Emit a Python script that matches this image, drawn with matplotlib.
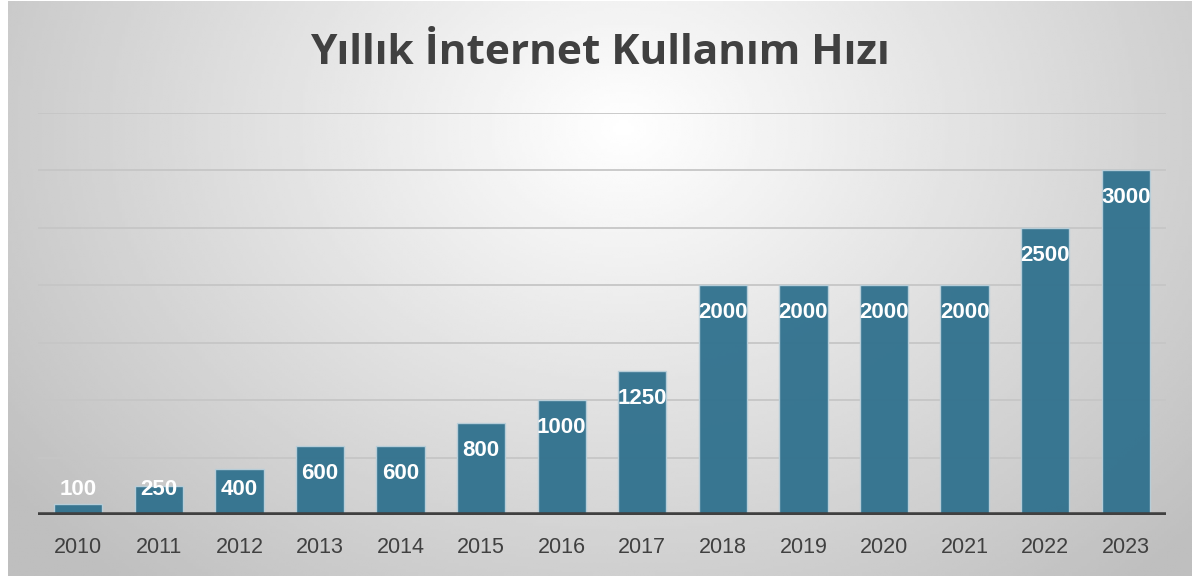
import numpy as np
import matplotlib
matplotlib.use('Agg')
import matplotlib.pyplot as plt

# ── DATA ──────────────────────────────────────────────────────────────────────
years  = ['2010', '2011', '2012', '2013', '2014', '2015', '2016',
          '2017', '2018', '2019', '2020', '2021', '2022', '2023']
speeds = [100, 250, 400, 600, 600, 800, 1000, 1250, 2000, 2000, 2000, 2000, 2500, 3000]
grid_ticks = [500, 1000, 1500, 2000, 2500, 3000, 3500]

# ── THEME ─────────────────────────────────────────────────────────────────────
BAR   = "#33738f"
EDGE  = "#b9cfda"
TEXT  = "#404040"
GRID  = "#c6c6c6"

W, H = 1192, 576
fig = plt.figure(figsize=(W / 100, H / 100), dpi=100, facecolor='white')

# radial gradient background
bg = fig.add_axes([8 / W, 0, 1 - 8 / W, 1 - 1 / H])
bg.axis('off')
xx, yy = np.meshgrid(np.linspace(0, 1, 400), np.linspace(0, 1, 200))
r = np.sqrt(((xx - 0.52) / 0.62) ** 2 + ((yy - 0.78) / 1.0) ** 2)
shade = 1 - 0.24 * np.clip(r, 0, 1.05)
bg.imshow(shade, cmap='gray', vmin=0, vmax=1, origin='lower',
          extent=[0, 1, 0, 1], aspect='auto', interpolation='bilinear')
bg.set_xlim(0, 1); bg.set_ylim(0, 1)

# title
fig.text(0.503, 1 - 53 / H, "Yıllık İnternet Kullanım Hızı", ha='center', va='center',
         fontsize=30.5, fontweight='bold', color=TEXT, family='Open Sans')

# ── BARS ──────────────────────────────────────────────────────────────────────
ax = fig.add_axes([38 / W, 1 - 515 / H, (1166 - 38) / W, (515 - 113) / H])
ax.patch.set_alpha(0)
x = np.arange(len(years))
ax.bar(x, speeds, width=0.6, color=BAR, edgecolor=EDGE, linewidth=1, zorder=3, alpha=0.97)
for g in grid_ticks:
    ax.axhline(g, color=GRID, lw=1.3, zorder=1)
ax.axhline(0, color='#404040', lw=4, zorder=4)

for xi, v in zip(x, speeds):
    ax.text(xi, max(v - 240, 220), f"{v}", ha='center', va='center', fontsize=16,
            fontweight='bold', color='white', family='Liberation Sans', zorder=5)

ax.set_xlim(-0.5, len(years) - 0.5)
ax.set_ylim(0, 3500)
ax.set_yticks([])
ax.set_xticks(x)
ax.set_xticklabels(years, fontsize=15.5, color=TEXT, family='Liberation Sans')
ax.tick_params(axis='x', length=0, pad=16)
for s in ax.spines.values():
    s.set_visible(False)

plt.savefig('out.png', dpi=100, facecolor='white')
